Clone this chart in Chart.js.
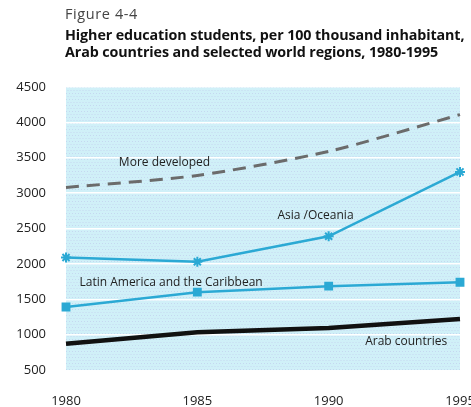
<!DOCTYPE html>
<html><head><meta charset="utf-8">
<script src="https://cdn.jsdelivr.net/npm/chart.js@4"></script>
<style>
 html,body{margin:0;padding:0;background:#fff;}
 #wrap{position:relative;width:471px;height:407px;overflow:hidden;}
 #cap{position:absolute;left:65px;top:5px;font-family:"Open Sans",sans-serif;color:#111;}
 #cap .fig{font-size:14.5px;letter-spacing:0.6px;color:#444;line-height:18px;}
 #cap .ttl{font-size:14.3px;font-weight:bold;line-height:17px;margin-top:3px;letter-spacing:-0.1px;}
 #box{position:absolute;left:0;top:0;width:471px;height:407px;}
</style>
</head><body>
<div id="wrap">
 <div id="box"><canvas id="c"></canvas></div>
 <div id="cap">
  <div class="fig">Figure 4-4</div>
  <div class="ttl">Higher education students, per 100 thousand inhabitant,<br>Arab countries and selected world regions, 1980-1995</div>
 </div>
</div>
<script>
/* ===== data ===== */
const YEARS=['1980','1985','1990','1995'];
const MORE_DEV=[3080,3250,3590,4110];
const ASIA=[2090,2030,2390,3300];
const LATAM=[1390,1600,1685,1740];
const ARAB=[870,1035,1095,1220];
const Y_TICKS=[500,1000,1500,2000,2500,3000,3500,4000,4500];

/* series labels: text + position in data units (x = year index) */
const LABELS=[
  {t:'More developed',x:0.75,y:3425},
  {t:'Asia /Oceania',x:1.90,y:2680},
  {t:'Latin America and the Caribbean',x:0.80,y:1735},
  {t:'Arab countries',x:2.59,y:905}
];

const BLUE='#2ba9d4';
const FONT='"Open Sans",sans-serif';

/* ---------- plugins ---------- */
const bg={id:'bg',beforeDraw(c){
  const {ctx,chartArea:{left,right,top,bottom}}=c;
  ctx.save(); ctx.fillStyle='#d0f0f8'; ctx.fillRect(left,top,right-left,bottom-top);
  // dotted screen
  ctx.fillStyle='rgba(190,200,235,.6)';
  for(let y=top;y<bottom;y+=3) for(let x=left+((y-top)/3%2?1.5:0);x<right;x+=3) ctx.fillRect(x,y,1,1);
  ctx.restore();}};

const txt={id:'txt',afterDatasetsDraw(c){
  const {ctx,scales:{x,y}}=c;
  ctx.save(); ctx.font='12px '+FONT; ctx.fillStyle='#222';
  ctx.textAlign='center'; ctx.textBaseline='middle';
  LABELS.forEach(l=>{
    const px=x.getPixelForValue(0)+(x.getPixelForValue(1)-x.getPixelForValue(0))*l.x;
    ctx.fillText(l.t,px,y.getPixelForValue(l.y));
  });
  ctx.restore();}};

const line=(d,col,w,extra={})=>Object.assign({data:d,borderColor:col,backgroundColor:col,
  borderWidth:w,pointRadius:0,tension:0,fill:false},extra);

new Chart(document.getElementById('c'),{
  type:'line',
  data:{labels:YEARS,datasets:[
    line(MORE_DEV,'#6b6b6b',3,{borderDash:[13,8],tension:0.25}),
    line(ASIA,BLUE,2.5,{pointStyle:'star',pointRadius:5,pointBorderWidth:2,pointBorderColor:BLUE}),
    line(LATAM,BLUE,2.5,{pointStyle:'rect',pointRadius:4.5}),
    line(ARAB,'#111',4.5)
  ]},
  options:{
    responsive:true,maintainAspectRatio:false,animation:false,
    layout:{padding:{top:87,right:11,bottom:0,left:0}},
    plugins:{legend:{display:false},tooltip:{enabled:false}},
    scales:{
      x:{offset:false,grid:{display:false},border:{display:false},
         ticks:{color:'#222',font:{family:FONT,size:13},padding:15,maxRotation:0},
         afterFit(s){s.height=37;s.paddingLeft=0;s.paddingRight=0;}},
      y:{min:500,max:4500,afterBuildTicks(s){s.ticks=Y_TICKS.map(v=>({value:v}));},
         border:{display:false},
         grid:{color:ctx=>ctx.tick&&ctx.tick.value===500?'transparent':'#ffffff',lineWidth:1.5,drawTicks:false},
         ticks:{color:'#222',font:{family:FONT,size:13},padding:20,callback:v=>String(v)},
         afterFit(s){s.width=66;s.paddingTop=0;s.paddingBottom=0;}}
    }
  },
  plugins:[bg,txt]
});
</script>
</body></html>
